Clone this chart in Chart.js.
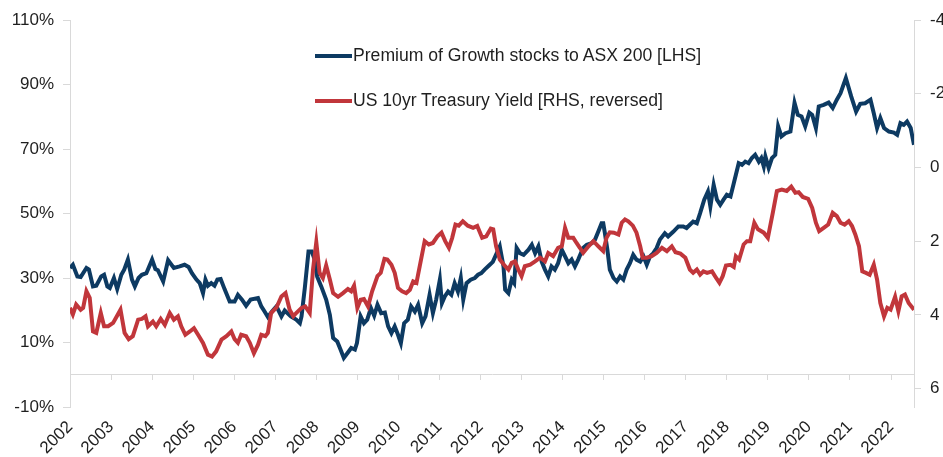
<!DOCTYPE html>
<html>

<head>
  <title>Growth Premium vs US 10yr Yield</title>
  <script src="https://cdn.jsdelivr.net/npm/chart.js@4.4.0/dist/chart.umd.min.js"></script>
  <style>
    body { margin: 0; background: #fff; }
    #wrap { position: relative; width: 943px; height: 457px; }
    #legend {
      position: absolute; left: 315px; top: 33px;
      font: 17.6px "Liberation Sans", Arial, sans-serif; color: #1f1f1f;
    }
    #legend .item { display: flex; align-items: center; height: 45px; white-space: nowrap; }
    #legend .swatch { width: 37px; height: 4px; margin-right: 1px; }
  </style>
</head>

<body>
  <div id="wrap">
    <canvas id="premiumChart" width="943" height="457"></canvas>
    <div id="legend"></div>
  </div>

  <script>
    // Year tick labels along the bottom
    const yearLabels = ['2002', '2003', '2004', '2005', '2006', '2007', '2008', '2009', '2010', '2011',
      '2012', '2013', '2014', '2015', '2016', '2017', '2018', '2019', '2020', '2021', '2022'];
    const firstYear = 2002;
    const lastDate = 2022.56;

    // Premium of growth stocks to ASX 200 (%), dates as decimal years
    const growthDates = [
      2002.00, 2002.07, 2002.18, 2002.26, 2002.40, 2002.46, 2002.56, 2002.64, 2002.76, 2002.83, 2002.91, 2002.97,
      2003.07, 2003.15, 2003.25, 2003.32, 2003.41, 2003.51, 2003.58, 2003.67, 2003.75, 2003.86,
      2004.00, 2004.08, 2004.14, 2004.27, 2004.39, 2004.53, 2004.67, 2004.79, 2004.89, 2004.97,
      2005.08, 2005.16, 2005.24, 2005.30, 2005.36, 2005.44, 2005.52, 2005.59, 2005.67, 2005.77, 2005.89,
      2006.01, 2006.09, 2006.19, 2006.29, 2006.40, 2006.58, 2006.66, 2006.74, 2006.82, 2006.92,
      2007.03, 2007.15, 2007.23, 2007.38, 2007.51, 2007.60, 2007.64, 2007.72, 2007.81, 2007.89, 2007.96,
      2008.02, 2008.12, 2008.24, 2008.33, 2008.41, 2008.51, 2008.59, 2008.67, 2008.77, 2008.85, 2008.94, 2008.99,
      2009.08, 2009.16, 2009.24, 2009.33, 2009.41, 2009.49, 2009.58, 2009.67, 2009.75, 2009.83, 2009.91, 2009.99,
      2010.06, 2010.14, 2010.23, 2010.31, 2010.40, 2010.48, 2010.58, 2010.66, 2010.76, 2010.84, 2010.92,
      2011.01, 2011.06, 2011.13, 2011.21, 2011.29, 2011.37, 2011.45, 2011.52, 2011.58, 2011.66, 2011.76, 2011.86, 2011.94,
      2012.02, 2012.10, 2012.20, 2012.30, 2012.47, 2012.56, 2012.60, 2012.68, 2012.76, 2012.82, 2012.88, 2012.96,
      2013.05, 2013.17, 2013.25, 2013.33, 2013.41, 2013.49, 2013.57, 2013.65, 2013.73, 2013.81, 2013.89, 2013.98,
      2014.06, 2014.14, 2014.22, 2014.30, 2014.38, 2014.50, 2014.59, 2014.71, 2014.79, 2014.87, 2014.95, 2014.99,
      2015.03, 2015.09, 2015.15, 2015.24, 2015.32, 2015.40, 2015.48, 2015.56, 2015.64, 2015.72, 2015.80, 2015.89, 2015.97,
      2016.05, 2016.13, 2016.21, 2016.29, 2016.37, 2016.49, 2016.57, 2016.70, 2016.82, 2016.94,
      2017.02, 2017.10, 2017.18, 2017.27, 2017.35, 2017.45, 2017.54, 2017.60, 2017.68, 2017.76, 2017.84, 2017.92,
      2018.00, 2018.09, 2018.17, 2018.29, 2018.37, 2018.45, 2018.53, 2018.61, 2018.69, 2018.78, 2018.84, 2018.90, 2018.94,
      2019.02, 2019.10, 2019.18, 2019.25, 2019.33, 2019.43, 2019.55, 2019.65, 2019.73, 2019.82, 2019.91,
      2020.01, 2020.08, 2020.17, 2020.24, 2020.36, 2020.48, 2020.58, 2020.68, 2020.77, 2020.90,
      2021.03, 2021.15, 2021.25, 2021.37, 2021.50, 2021.58, 2021.66, 2021.74, 2021.83, 2021.95,
      2022.07, 2022.15, 2022.23, 2022.31, 2022.39, 2022.48, 2022.56
    ];
    const growthPremium = [
      33.1, 34.1, 30.5, 30.3, 33.1, 32.6, 27.4, 27.6, 30.5, 31.0, 27.4, 26.9,
      30.0, 26.6, 31.0, 32.6, 35.7, 29.5, 27.4, 30.0, 31.0, 31.5,
      35.7, 32.8, 32.4, 28.9, 35.5, 33.1, 33.6, 34.1, 33.4, 31.5,
      29.5, 28.4, 25.3, 29.5, 27.6, 28.4, 27.6, 29.5, 29.7, 26.4, 22.7,
      22.7, 24.8, 23.3, 21.4, 23.3, 23.8, 21.2, 19.6, 17.9, 19.6,
      21.2, 18.1, 19.9, 18.1, 17.1, 16.0, 18.1, 26.9, 38.2, 38.2, 35.7,
      30.5, 27.4, 23.3, 18.6, 11.4, 10.3, 7.8, 5.2, 6.9, 8.3, 7.8, 9.8,
      18.1, 16.0, 17.1, 20.7, 18.3, 21.7, 19.1, 19.3, 15.0, 12.9, 15.0, 12.4,
      9.8, 16.0, 17.1, 21.2, 19.6, 21.7, 16.0, 18.1, 24.8, 19.1, 23.3,
      29.5, 22.2, 24.3, 25.8, 24.8, 28.4, 25.8, 30.0, 23.3, 28.4, 29.5, 30.0, 31.0,
      31.5, 32.6, 33.8, 35.0, 39.8, 33.6, 26.4, 25.3, 29.5, 28.4, 39.3, 37.7,
      37.2, 38.8, 40.3, 37.7, 39.8, 35.1, 32.6, 30.5, 33.6, 32.6, 34.6, 38.8,
      36.7, 34.6, 35.7, 33.6, 35.7, 39.3, 40.3, 40.8, 41.9, 44.4, 47.0, 47.0,
      43.9, 38.8, 32.6, 30.0, 28.9, 30.5, 29.5, 32.6, 34.6, 37.2, 35.7, 35.1, 36.7,
      34.1, 36.7, 37.7, 39.3, 41.9, 43.9, 42.9, 44.4, 46.0, 46.0,
      45.5, 46.5, 47.5, 47.0, 50.1, 54.3, 56.8, 52.2, 58.9, 54.3, 52.7, 54.3,
      55.8, 55.3, 59.4, 65.6, 65.1, 66.1, 65.6, 67.2, 68.2, 66.1, 67.2, 64.6, 67.7,
      64.1, 67.2, 68.2, 77.0, 73.9, 74.9, 75.4, 84.3, 80.6, 80.1, 77.0,
      81.3, 80.6, 76.5, 83.2, 83.7, 84.4, 82.7, 85.3, 87.3, 92.0,
      86.3, 81.6, 84.0, 84.2, 85.3, 81.1, 76.5, 79.6, 76.5, 75.4,
      75.1, 74.4, 78.0, 77.5, 78.5, 76.5, 71.3
    ];

    // US 10yr Treasury yield (%), plotted on a reversed right axis
    const yieldDates = [
      2002.00, 2002.07, 2002.15, 2002.26, 2002.32, 2002.40, 2002.48, 2002.56, 2002.64, 2002.75, 2002.83, 2002.93,
      2003.05, 2003.23, 2003.33, 2003.43, 2003.53, 2003.66, 2003.75, 2003.84, 2003.90,
      2004.02, 2004.10, 2004.21, 2004.31, 2004.43, 2004.53, 2004.63, 2004.71, 2004.81, 2004.92,
      2005.02, 2005.12, 2005.24, 2005.36, 2005.46, 2005.56, 2005.69, 2005.81, 2005.93,
      2006.01, 2006.09, 2006.17, 2006.29, 2006.38, 2006.48, 2006.58, 2006.66, 2006.76, 2006.82, 2006.90,
      2007.03, 2007.15, 2007.25, 2007.35, 2007.44, 2007.51, 2007.64, 2007.73, 2007.84, 2007.92,
      2008.00, 2008.08, 2008.16, 2008.24, 2008.33, 2008.41, 2008.53, 2008.65, 2008.77, 2008.85, 2008.92,
      2009.00, 2009.08, 2009.16, 2009.26, 2009.36, 2009.49, 2009.57, 2009.66, 2009.73, 2009.83, 2009.91, 2009.99,
      2010.09, 2010.19, 2010.28, 2010.36, 2010.44, 2010.52, 2010.64, 2010.74, 2010.84, 2010.95,
      2011.05, 2011.14, 2011.23, 2011.31, 2011.39, 2011.47, 2011.57, 2011.69, 2011.82, 2011.92,
      2012.04, 2012.14, 2012.25, 2012.31, 2012.38, 2012.47, 2012.60, 2012.68, 2012.76, 2012.84, 2012.92,
      2013.00, 2013.08, 2013.21, 2013.33, 2013.45, 2013.57, 2013.65, 2013.77, 2013.89, 2013.98,
      2014.06, 2014.14, 2014.26, 2014.34, 2014.42, 2014.50, 2014.63, 2014.75, 2014.87, 2014.99,
      2015.07, 2015.15, 2015.25, 2015.36, 2015.44, 2015.52, 2015.60, 2015.71, 2015.80, 2015.89, 2015.95,
      2016.05, 2016.17, 2016.29, 2016.42, 2016.54, 2016.66, 2016.75, 2016.87, 2016.99,
      2017.10, 2017.18, 2017.27, 2017.35, 2017.43, 2017.52, 2017.64, 2017.74, 2017.82, 2017.90, 2017.98,
      2018.09, 2018.17, 2018.22, 2018.30, 2018.41, 2018.49, 2018.57, 2018.67, 2018.76, 2018.90,
      2019.00, 2019.12, 2019.22, 2019.34, 2019.46, 2019.57, 2019.67, 2019.75, 2019.85, 2019.98,
      2020.08, 2020.17, 2020.25, 2020.36, 2020.47, 2020.58, 2020.68, 2020.77, 2020.87, 2020.97,
      2021.05, 2021.13, 2021.22, 2021.30, 2021.39, 2021.48, 2021.58, 2021.66, 2021.74, 2021.83, 2021.91, 2021.99,
      2022.10, 2022.18, 2022.26, 2022.34, 2022.43, 2022.56
    ];
    const us10yYield = [
      3.81, 3.99, 3.72, 3.86, 3.81, 3.36, 3.54, 4.45, 4.49, 3.95, 4.31, 4.31,
      4.22, 3.86, 4.49, 4.66, 4.58, 4.13, 4.11, 4.04, 4.31,
      4.18, 4.31, 4.11, 4.27, 3.95, 4.13, 4.04, 4.31, 4.54, 4.45,
      4.36, 4.54, 4.76, 5.08, 5.13, 4.99, 4.67, 4.58, 4.45,
      4.66, 4.76, 4.54, 4.58, 4.76, 5.04, 4.81, 4.54, 4.58, 4.49, 3.95,
      3.80, 3.50, 3.41, 3.86, 4.04, 3.95, 3.81, 3.77, 3.95, 2.77,
      2.03, 2.86, 3.00, 2.66, 3.04, 3.41, 3.51, 3.41, 3.30, 3.36, 3.21,
      3.81, 3.59, 3.57, 3.77, 3.36, 2.95, 2.86, 2.48, 2.50, 2.64, 2.86, 3.27,
      3.36, 3.41, 3.32, 3.09, 3.13, 2.68, 2.00, 2.09, 2.05, 1.87,
      1.77, 2.00, 2.18, 1.91, 1.55, 1.58, 1.46, 1.58, 1.64, 1.59,
      1.91, 1.87, 1.66, 1.68, 2.14, 2.50, 2.68, 2.77, 2.59, 2.55, 2.77,
      2.95, 2.68, 2.64, 2.55, 2.45, 2.55, 2.32, 2.41, 2.18, 2.14,
      1.64, 1.91, 1.91, 2.05, 2.18, 2.32, 2.14, 2.00, 2.14, 2.27,
      1.91, 1.76, 1.77, 1.82, 1.50, 1.41, 1.46, 1.58, 1.77, 2.14, 2.45,
      2.45, 2.41, 2.32, 2.18, 2.27, 2.14, 2.30, 2.34, 2.45,
      2.77, 2.86, 2.77, 2.91, 2.82, 2.86, 2.82, 3.00, 3.13, 2.95, 2.66,
      2.64, 2.70, 2.41, 2.50, 2.09, 2.00, 2.00, 1.50, 1.68, 1.77,
      1.91, 1.23, 0.64, 0.60, 0.64, 0.52, 0.69, 0.67, 0.80, 0.85,
      1.10, 1.50, 1.73, 1.64, 1.55, 1.23, 1.32, 1.50, 1.55, 1.46,
      1.59, 1.82, 2.14, 2.82, 2.86, 2.91, 2.64, 3.04, 3.68, 4.04, 3.81, 3.86,
      3.51, 3.90, 3.50, 3.45, 3.68, 3.86
    ];

    const axisGrey = '#d9d9d9';
    const textColor = '#1f1f1f';
    const tickFont = { family: '"Liberation Sans", Arial, sans-serif', size: 17 };

    const toPoints = (xs, ys) => xs.map((x, i) => ({ x: x, y: ys[i] }));
    const keepYears = (scale) => {
      scale.ticks = scale.ticks.filter(t => Number.isInteger(t.value));
    };

    const ctx = document.getElementById('premiumChart').getContext('2d');
    const chart = new Chart(ctx, {
      type: 'line',
      data: {
        datasets: [{
          label: 'Premium of Growth stocks to ASX 200 [LHS]',
          data: toPoints(growthDates, growthPremium),
          borderColor: '#0d3a62',
          borderWidth: 4,
          pointRadius: 0,
          yAxisID: 'y',
          xAxisID: 'x',
          order: 1,
        }, {
          label: 'US 10yr Treasury Yield [RHS, reversed]',
          data: toPoints(yieldDates, us10yYield),
          borderColor: '#c1363b',
          borderWidth: 4,
          pointRadius: 0,
          yAxisID: 'y1',
          xAxisID: 'x',
          order: 0,
        }],
      },
      options: {
        responsive: false,
        animation: false,
        layout: { padding: { top: 20, left: 0, right: 0, bottom: 0 } },
        plugins: {
          legend: { display: false },
          tooltip: { enabled: false },
        },
        scales: {
          x: {
            type: 'linear',
            position: 'bottom',
            min: firstYear,
            max: lastDate,
            afterBuildTicks: keepYears,
            afterFit: (s) => { s.height = 50; },
            grid: { display: false },
            border: { display: false },
            ticks: {
              stepSize: 1,
              includeBounds: false,
              autoSkip: false,
              minRotation: 45,
              maxRotation: 45,
              padding: 2,
              font: tickFont,
              color: textColor,
              callback: (v) => yearLabels[v - firstYear],
            },
          },
          // zero line with year tick marks hanging below it
          xZero: {
            type: 'linear',
            axis: 'x',
            position: { y: 0 },
            min: firstYear,
            max: lastDate,
            afterBuildTicks: keepYears,
            grid: { drawOnChartArea: false, tickLength: 5, color: axisGrey },
            border: { color: axisGrey },
            ticks: { display: false, stepSize: 1, includeBounds: false },
          },
          y: {
            position: 'left',
            min: -10,
            max: 110,
            afterFit: (s) => { s.width = 70; },
            grid: { drawOnChartArea: false, tickLength: 7, color: axisGrey },
            border: { color: axisGrey },
            ticks: {
              stepSize: 20,
              padding: 9,
              font: tickFont,
              color: textColor,
              callback: (v) => v + '%',
            },
          },
          y1: {
            position: 'right',
            reverse: true,
            min: -4,
            max: 6.5,
            afterBuildTicks: (s) => {
              s.ticks = s.ticks.filter(t => Number.isInteger(t.value) && t.value <= 6);
            },
            afterFit: (s) => { s.width = 29; },
            grid: { drawOnChartArea: false, tickLength: 7, color: axisGrey },
            border: { color: axisGrey },
            ticks: {
              stepSize: 2,
              includeBounds: false,
              padding: 9,
              font: tickFont,
              color: textColor,
            },
          },
        },
      },
    });

    // Stacked legend placed inside the plot
    const legend = document.getElementById('legend');
    chart.data.datasets.forEach((ds) => {
      const item = document.createElement('div');
      item.className = 'item';
      const swatch = document.createElement('span');
      swatch.className = 'swatch';
      swatch.style.background = ds.borderColor;
      const text = document.createElement('span');
      text.textContent = ds.label;
      item.appendChild(swatch);
      item.appendChild(text);
      legend.appendChild(item);
    });
  </script>
</body>

</html>
